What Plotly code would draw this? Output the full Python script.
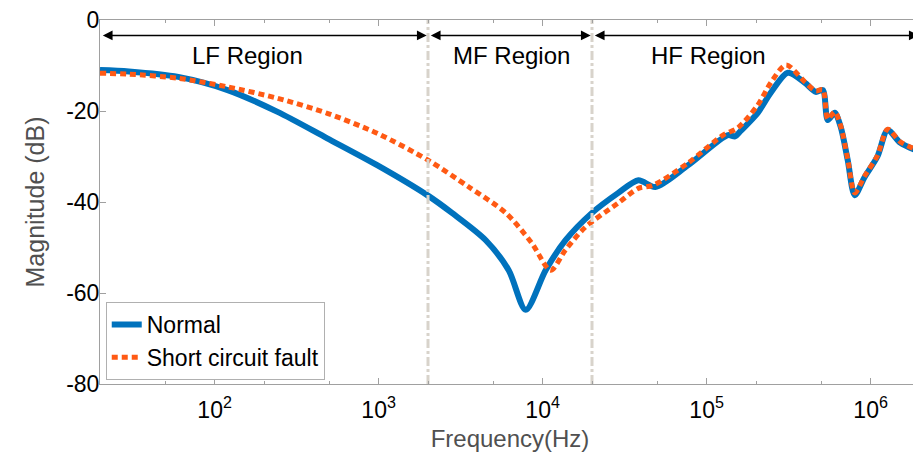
import math
import plotly.graph_objects as go

# ---- data ----
freq_normal = [20, 30, 60, 120, 242, 486, 979, 2000, 2800, 4500, 6210, 7890,
               10430, 13800, 19850, 28950, 38350, 48650, 77200, 135000, 149000, 160000,
               205000, 246000, 313000, 397000, 463000, 511000, 548000, 604000, 657000,
               725000, 800000, 920000, 1.10e6, 1.27e6, 1.52e6, 2.0e6]
mag_normal = [-11.0, -11.3, -12.5, -15.4, -20.2, -26.0, -31.9, -38.6, -42.4,
              -48.4, -55.0, -63.7, -55.0, -48.4, -42.5, -38.0, -35.2, -36.7, -31.9, -25.3,
              -25.6, -24.5, -20.4, -16.0, -11.6, -13.8, -15.8, -15.4, -22.0, -20.4, -23.5,
              -30.8, -38.5, -34.5, -30.0, -24.2, -27.0, -29.0]

freq_fault = [20, 30, 60, 120, 242, 486, 979, 2000, 3550, 5960, 8580, 11190,
              13800, 18250, 28950, 38350, 47300, 77200, 126000, 155000, 205000, 246000,
              305000, 397000, 463000, 511000, 548000, 604000, 657000, 725000, 800000,
              920000, 1.10e6, 1.27e6, 1.52e6, 2.0e6]
mag_fault = [-11.7, -11.9, -12.8, -14.7, -17.2, -20.5, -24.9, -30.8, -36.7,
             -42.4, -49.0, -55.0, -50.5, -45.5, -40.2, -37.0, -36.3, -31.4, -25.3, -23.7,
             -18.7, -13.8, -9.9, -13.6, -15.6, -15.3, -21.8, -20.2, -23.3, -30.6, -38.0,
             -34.3, -29.8, -24.0, -26.8, -28.8]

region_bounds = [20, 2000, 20000, 2.0e6]
region_labels = ["LF Region", "MF Region", "HF Region"]
region_label_freq = [159, 6470, 102000]

x_tick_vals = [1e2, 1e3, 1e4, 1e5, 1e6]
x_tick_text = ["10<sup>2</sup>", "10<sup>3</sup>", "10<sup>4</sup>", "10<sup>5</sup>", "10<sup>6</sup>"]
y_tick_vals = [-80, -60, -40, -20, 0]
y_tick_text = ["-80", "-60", "-40", "-20", "0"]

BLUE = "#0072BD"
ORANGE = "#FF5A14"
VLINE = "#D8D3CB"
AXIS = "#A0A0A0"
FONT = "Liberation Sans, Arial, sans-serif"

fig = go.Figure()
fig.add_trace(go.Scatter(x=freq_normal, y=mag_normal, mode="lines", name="Normal",
                         line=dict(color=BLUE, width=6, shape="spline", smoothing=0.8)))
fig.add_trace(go.Scatter(x=freq_fault, y=mag_fault, mode="lines", name="Short circuit fault",
                         line=dict(color=ORANGE, width=5, dash="6px,4px", shape="spline", smoothing=0.8)))

for b in region_bounds[1:3]:
    fig.add_trace(go.Scatter(x=[b, b], y=[-80, 0], mode="lines", showlegend=False,
                             hoverinfo="skip",
                             line=dict(color=VLINE, width=3, dash="dashdot")))

annotations = []
arrow_y = -3.4
for i in range(3):
    a, b = region_bounds[i], region_bounds[i + 1]
    annotations.append(dict(x=math.log10(b) - 0.008, y=arrow_y, ax=math.log10(a) + 0.008, ay=arrow_y,
                            xref="x", yref="y", axref="x", ayref="y", text="",
                            showarrow=True, arrowhead=2, arrowside="end+start",
                            arrowsize=1.3, arrowwidth=1.5, arrowcolor="black"))
    annotations.append(dict(x=math.log10(region_label_freq[i]), y=-7.7, xref="x", yref="y",
                            text=region_labels[i], showarrow=False,
                            font=dict(family=FONT, size=24, color="black")))

# page body has an 8px margin, so the figure is sized/offset to compensate
fig.update_layout(
    width=913, height=444,
    margin=dict(l=92, r=1, t=12, b=68),
    paper_bgcolor="white", plot_bgcolor="white",
    font=dict(family=FONT, size=23, color="black"),
    annotations=annotations,
    showlegend=True,
    legend=dict(x=0.007, y=0.011, xanchor="left", yanchor="bottom",
                bgcolor="white", bordercolor="#B0B0B0", borderwidth=1,
                font=dict(family=FONT, size=23, color="black"),
                tracegroupgap=0, itemwidth=30),
)
fig.update_xaxes(type="log", range=[math.log10(20), math.log10(2.0e6)],
                 tickvals=x_tick_vals, ticktext=x_tick_text,
                 ticks="inside", ticklen=6, tickcolor=AXIS,
                 showline=True, linecolor=AXIS, linewidth=1, mirror="allticks",
                 showgrid=False, zeroline=False, automargin=False,
                 ticklabelstandoff=5, ticklabeloverflow="allow",
                 minor=dict(ticks="inside", ticklen=3, tickcolor=AXIS, showgrid=False),
                 tickfont=dict(family=FONT, size=23, color="black"),
                 title=dict(text="Frequency(Hz)", standoff=10,
                            font=dict(family=FONT, size=24, color="#505050")))
fig.update_yaxes(range=[-80, 0], tickvals=y_tick_vals, ticktext=y_tick_text,
                 ticks="inside", ticklen=6, tickcolor=AXIS,
                 showline=True, linecolor=AXIS, linewidth=1, mirror="allticks",
                 showgrid=False, zeroline=False, automargin=False,
                 ticklabelstandoff=-5, ticklabeloverflow="allow",
                 tickfont=dict(family=FONT, size=23, color="black"),
                 title=dict(text="Magnitude (dB)", standoff=14,
                            font=dict(family=FONT, size=25, color="#505050")))

fig.write_html("out.html")
